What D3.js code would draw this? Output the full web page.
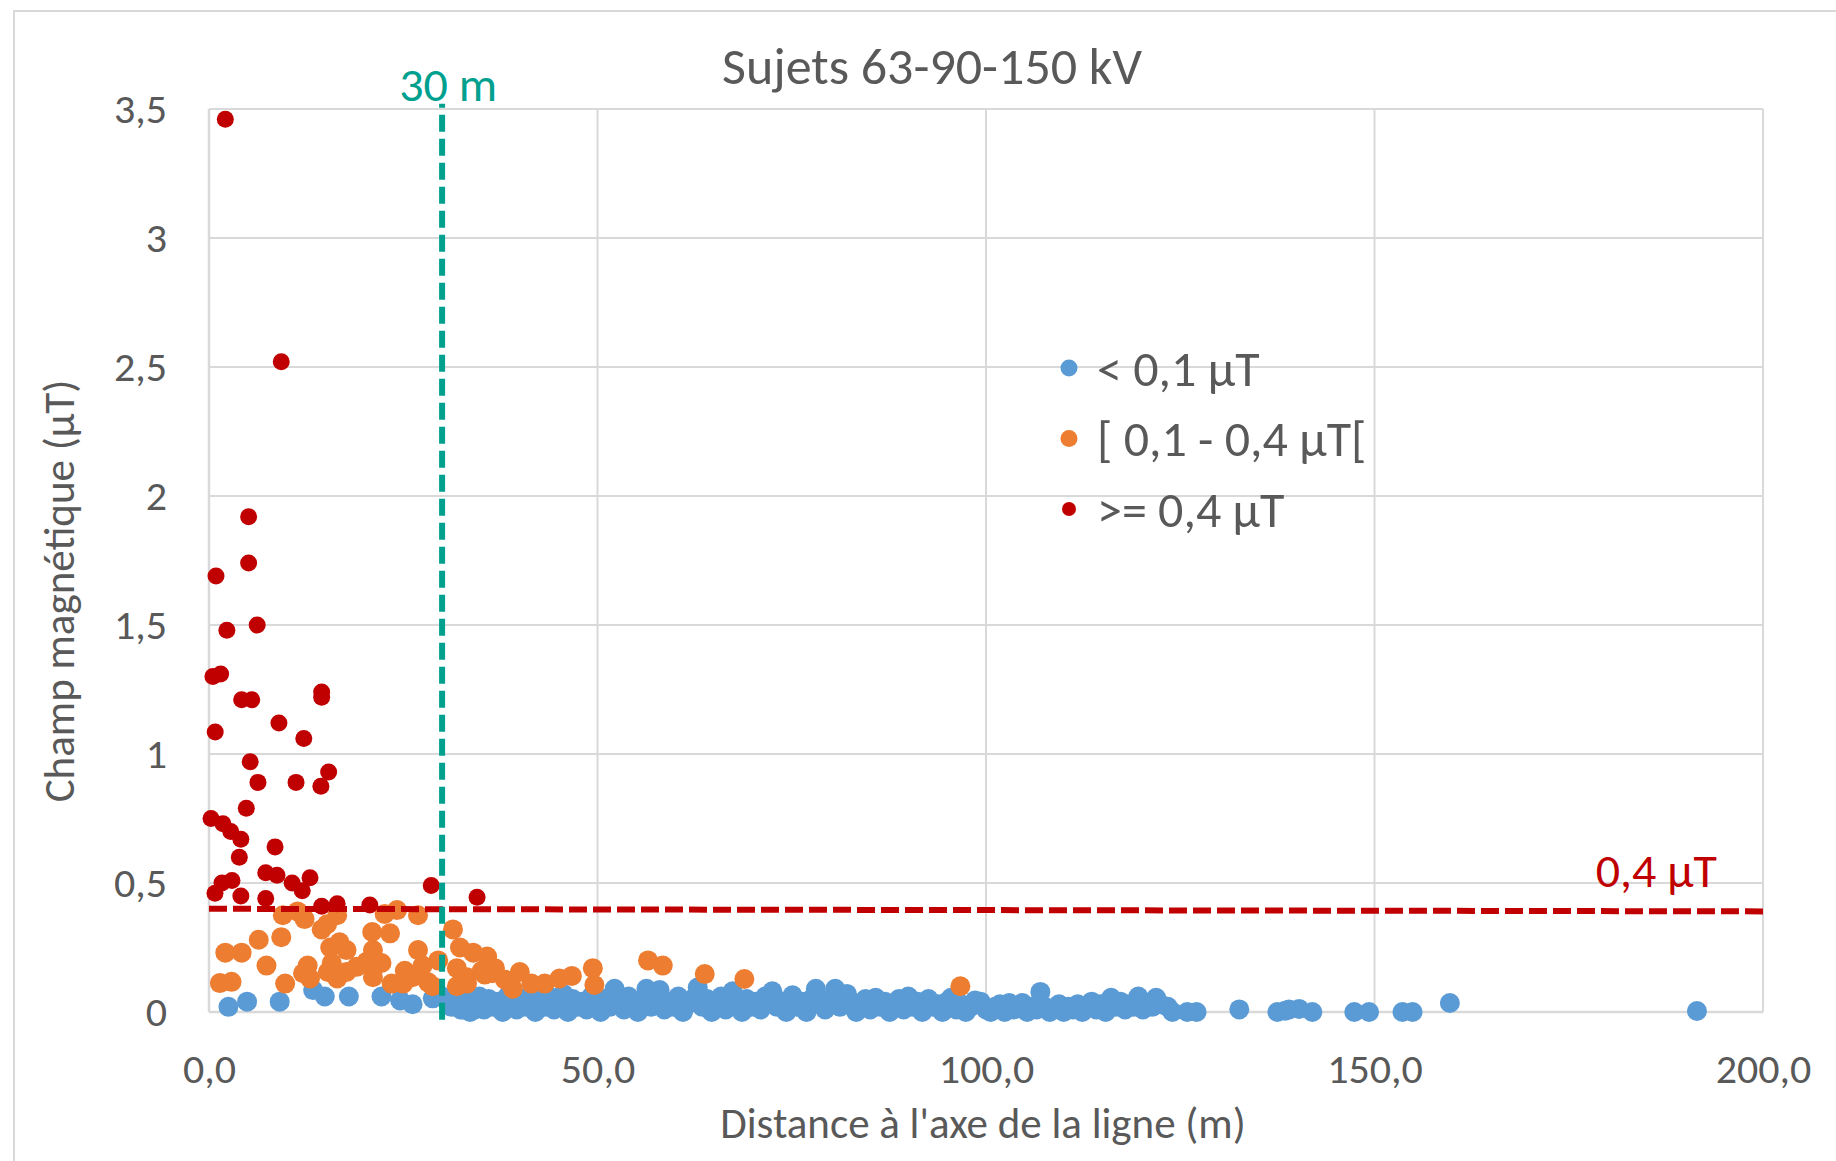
<!DOCTYPE html>
<html>
<head>
<meta charset="utf-8">
<script src="https://cdn.jsdelivr.net/npm/d3@7"></script>
<style>
    html, body { margin: 0; padding: 0; background: #fff; }
    svg { display: block; font-family: Carlito, Calibri, Lato, sans-serif; }
</style>
</head>
<body>
<div id="chartContainer"></div>
<script>
// axis ticks
const xTicks = [0, 50, 100, 150, 200];
const yTicks = [0, 0.5, 1, 1.5, 2, 2.5, 3, 3.5];

const seriesNames = ["< 0,1 µT", "[ 0,1 - 0,4 µT[", ">= 0,4 µT"];

// [distance (m), champ (µT)]
const bluePoints = [
    [2.5, 0.02], [4.9, 0.04], [9.1, 0.04], [13.4, 0.085], [14.9, 0.06], [18.0, 0.06], [22.2, 0.06],
    [24.6, 0.045], [26.2, 0.03], [28.8, 0.053], [30.0, 0.06], [32.7, 0.01], [34.2, 0.01],
    [30.5, 0.05], [31.2, 0.02], [31.8, 0.06], [32.4, 0.01], [33.0, 0.04], [33.6, 0.0], [34.8, 0.06],
    [35.4, 0.01], [36.0, 0.05], [36.6, 0.02], [37.2, 0.04], [37.8, 0.0], [38.4, 0.06], [39.0, 0.03],
    [39.6, 0.01], [40.2, 0.05], [40.8, 0.02], [41.4, 0.07], [42.0, 0.0], [42.6, 0.04], [43.2, 0.02],
    [43.8, 0.06], [44.4, 0.01], [45.0, 0.03], [45.6, 0.07], [46.2, 0.0], [46.8, 0.05], [47.4, 0.02],
    [48.0, 0.04], [48.6, 0.01], [49.2, 0.06], [49.8, 0.03], [50.4, 0.0], [51.0, 0.05], [51.6, 0.02],
    [52.2, 0.09], [52.8, 0.04], [53.4, 0.01], [54.0, 0.06], [54.6, 0.03], [55.2, 0.0], [55.8, 0.05],
    [56.3, 0.09], [56.9, 0.02], [57.5, 0.06], [58.0, 0.085], [58.6, 0.01], [59.2, 0.04], [59.8, 0.02],
    [60.4, 0.06], [61.0, 0.0], [61.6, 0.03], [62.2, 0.05], [62.9, 0.095], [63.5, 0.02], [64.1, 0.05],
    [64.7, 0.0], [65.3, 0.03], [65.9, 0.06], [66.5, 0.01], [67.4, 0.08], [68.0, 0.03], [68.6, 0.0],
    [69.2, 0.05], [69.8, 0.02], [70.4, 0.04], [71.0, 0.01], [71.6, 0.06], [72.5, 0.08], [73.1, 0.02],
    [73.7, 0.04], [74.3, 0.0], [75.1, 0.065], [75.7, 0.02], [76.3, 0.04], [76.9, 0.0], [77.5, 0.05],
    [78.1, 0.09], [78.7, 0.03], [79.3, 0.01], [80.0, 0.05], [80.6, 0.09], [81.2, 0.02], [82.1, 0.07],
    [82.7, 0.04], [83.3, 0.0], [83.9, 0.03], [84.5, 0.05], [85.1, 0.01], [85.8, 0.055], [86.4, 0.02],
    [87.0, 0.04], [87.6, 0.0], [88.2, 0.03], [88.8, 0.05], [89.4, 0.01], [90.0, 0.06], [90.6, 0.02],
    [91.2, 0.04], [91.8, 0.0], [92.6, 0.05], [93.2, 0.02], [93.8, 0.03], [94.4, 0.0], [95.0, 0.04],
    [95.5, 0.055], [96.2, 0.01], [96.8, 0.03], [97.4, 0.0], [98.0, 0.02], [98.6, 0.045], [99.3, 0.04],
    [100.0, 0.01], [100.6, 0.0], [101.2, 0.02], [101.8, 0.03], [102.4, 0.0], [103.0, 0.035], [103.6, 0.01],
    [104.2, 0.02], [104.7, 0.035], [105.3, 0.0], [105.9, 0.02], [106.5, 0.01], [107.0, 0.078], [107.6, 0.02],
    [108.2, 0.0], [108.8, 0.015], [109.4, 0.03], [110.0, 0.0], [110.6, 0.02], [111.2, 0.01], [111.8, 0.03],
    [112.4, 0.0], [113.0, 0.02], [113.6, 0.04], [114.2, 0.01], [114.8, 0.03], [115.4, 0.0], [116.1, 0.055],
    [116.7, 0.02], [117.3, 0.04], [117.9, 0.01], [118.5, 0.03], [119.0, 0.02], [119.6, 0.06], [120.2, 0.01],
    [120.8, 0.035], [121.4, 0.02], [121.9, 0.055], [122.5, 0.03], [123.4, 0.02], [124.0, 0.0],
    [125.9, 0.0], [127.1, 0.0], [132.6, 0.01], [137.5, 0.0], [138.5, 0.005], [139.0, 0.01], [140.3, 0.012],
    [142.0, 0.0], [147.4, 0.0], [149.3, 0.0], [153.6, 0.0], [154.9, 0.0], [159.7, 0.035], [191.5, 0.004]
];

const orangePoints = [
    [1.4, 0.112], [2.9, 0.117], [2.1, 0.23], [4.2, 0.23], [6.4, 0.28], [7.4, 0.18], [9.3, 0.29],
    [9.8, 0.11], [9.5, 0.375], [11.4, 0.39], [12.3, 0.36], [12.7, 0.18], [12.1, 0.15], [13.0, 0.13],
    [14.5, 0.32], [15.2, 0.34], [16.5, 0.375], [15.6, 0.25], [16.8, 0.27], [17.7, 0.24], [15.8, 0.19],
    [15.3, 0.155], [16.5, 0.13], [17.7, 0.155], [19.0, 0.175], [20.3, 0.195], [21.1, 0.24], [21.0, 0.31],
    [21.1, 0.135], [22.2, 0.19], [22.6, 0.38], [24.2, 0.395], [23.3, 0.305], [23.5, 0.11], [25.2, 0.16],
    [25.0, 0.11], [26.9, 0.375], [26.9, 0.24], [27.5, 0.18], [26.2, 0.135], [28.2, 0.115], [29.5, 0.2],
    [28.8, 0.1], [31.4, 0.32], [32.3, 0.25], [34.0, 0.23], [35.8, 0.215], [31.9, 0.17], [33.2, 0.135],
    [35.1, 0.16], [36.5, 0.15], [31.9, 0.1], [33.2, 0.11], [36.8, 0.17], [35.5, 0.145], [38.1, 0.125],
    [39.1, 0.09], [40.0, 0.155], [41.5, 0.11], [43.2, 0.11], [45.1, 0.13], [46.7, 0.14], [49.4, 0.17],
    [49.6, 0.105], [56.5, 0.2], [58.4, 0.18], [63.8, 0.147], [68.9, 0.128], [96.7, 0.1]
];

const redPoints = [
    [2.1, 3.46], [9.3, 2.52], [5.1, 1.92], [5.1, 1.74], [0.9, 1.69], [6.2, 1.5], [2.3, 1.48],
    [0.5, 1.3], [1.5, 1.31], [4.2, 1.21], [5.5, 1.21], [14.5, 1.24], [14.5, 1.22], [9.0, 1.12],
    [12.2, 1.06], [0.8, 1.085], [5.3, 0.97], [15.4, 0.93], [6.3, 0.89], [11.2, 0.89], [14.4, 0.875],
    [4.8, 0.79], [0.26, 0.75], [1.8, 0.73], [2.8, 0.7], [4.1, 0.67], [8.5, 0.64], [3.9, 0.6],
    [1.67, 0.5], [2.96, 0.51], [0.77, 0.46], [4.1, 0.45], [7.3, 0.54], [8.75, 0.53], [10.7, 0.5],
    [12.0, 0.47], [13.0, 0.52], [7.3, 0.44], [14.5, 0.41], [16.5, 0.42], [20.7, 0.415], [28.6, 0.49],
    [34.5, 0.445]
];

// seuil 0,4 µT et distance 30 m
const limitLine = [[0, 0.4], [200, 0.39]];
const distLine = [[30, -0.03], [30, 3.52]];
const limitLabel = "0,4 µT";
const distLabel = "30 m";

const width = 1836, height = 1161;
const plot = {left: 209, right: 1763, top: 109, bottom: 1012};
const grey = "#595959", gridColor = "#d9d9d9";
const colors = ["#5b9bd5", "#ed7d31", "#c00000"];
const teal = "#00a08f";

const locale = d3.formatLocale({decimal: ",", thousands: " ", grouping: [3], currency: ["", "€"]});

function init() {
    let svg = d3.select("#chartContainer").append("svg")
        .attr("width", width)
        .attr("height", height);

    svg.append("rect")
        .attr("x", 14).attr("y", 11)
        .attr("width", width).attr("height", height)
        .attr("fill", "none")
        .attr("stroke", gridColor)
        .attr("stroke-width", 2);

    let x = d3.scaleLinear().domain([0, 200]).range([plot.left, plot.right]);
    let y = d3.scaleLinear().domain([0, 3.5]).range([plot.bottom, plot.top]);

    // grid
    svg.append("g")
        .selectAll("line.h")
        .data(yTicks)
        .join("line")
        .attr("x1", plot.left).attr("x2", plot.right)
        .attr("y1", d => y(d)).attr("y2", d => y(d))
        .attr("stroke", gridColor)
        .attr("stroke-width", d => d === 0 ? 2.5 : 2);

    svg.append("g")
        .selectAll("line.v")
        .data(xTicks)
        .join("line")
        .attr("x1", d => x(d)).attr("x2", d => x(d))
        .attr("y1", plot.top).attr("y2", plot.bottom)
        .attr("stroke", gridColor)
        .attr("stroke-width", d => d === 0 ? 2.5 : 2);

    // axes
    let xAxis = svg.append("g")
        .attr("transform", `translate(0,${plot.bottom})`)
        .call(d3.axisBottom(x).tickValues(xTicks).tickSize(0).tickPadding(41)
            .tickFormat(locale.format(".1f")));

    let yAxis = svg.append("g")
        .attr("transform", `translate(${plot.left},0)`)
        .call(d3.axisLeft(y).tickValues(yTicks).tickSize(0).tickPadding(42)
            .tickFormat(locale.format("~g")));

    [xAxis, yAxis].forEach(a => {
        a.select(".domain").remove();
        a.selectAll("text")
            .attr("fill", grey)
            .style("font-size", "42px")
            .style("font-family", "Carlito, Calibri, Lato, sans-serif");
    });

    // points
    const series = [bluePoints, orangePoints, redPoints];
    const radius = [10, 10, 8.5];
    series.forEach((pts, i) => {
        svg.append("g")
            .selectAll("circle")
            .data(pts)
            .join("circle")
            .attr("cx", d => x(d[0]))
            .attr("cy", d => y(d[1]))
            .attr("r", radius[i])
            .attr("fill", colors[i]);
    });

    let line = d3.line().x(d => x(d[0])).y(d => y(d[1]));

    svg.append("path")
        .attr("d", line(limitLine))
        .attr("fill", "none")
        .attr("stroke", colors[2])
        .attr("stroke-width", 6)
        .attr("stroke-dasharray", "18,6");

    svg.append("path")
        .attr("d", line(distLine))
        .attr("fill", "none")
        .attr("stroke", teal)
        .attr("stroke-width", 6)
        .attr("stroke-dasharray", "17,7");

    svg.append("text")
        .attr("x", x(distLine[0][0]) + 6)
        .attr("y", 101)
        .attr("text-anchor", "middle")
        .attr("fill", teal)
        .style("font-size", "48px")
        .text(distLabel);

    svg.append("text")
        .attr("x", 1717)
        .attr("y", 887)
        .attr("text-anchor", "end")
        .attr("fill", colors[2])
        .style("font-size", "48px")
        .text(limitLabel);

    // titles
    svg.append("text")
        .attr("x", 932).attr("y", 84)
        .attr("text-anchor", "middle")
        .attr("fill", grey)
        .style("font-size", "52px")
        .text("Sujets 63-90-150 kV");

    svg.append("text")
        .attr("x", 983).attr("y", 1138)
        .attr("text-anchor", "middle")
        .attr("fill", grey)
        .style("font-size", "43px")
        .text("Distance à l'axe de la ligne (m)");

    svg.append("text")
        .attr("transform", "translate(74,591) rotate(-90)")
        .attr("text-anchor", "middle")
        .attr("fill", grey)
        .style("font-size", "43px")
        .text("Champ magnétique (µT)");

    // legend
    let legend = svg.append("g").attr("transform", "translate(1069,368)");
    let rows = legend.selectAll("g")
        .data(seriesNames)
        .join("g")
        .attr("transform", (d, i) => `translate(0,${i * 70.5})`);

    rows.append("circle")
        .attr("r", (d, i) => i === 2 ? 7 : 8.5)
        .attr("fill", (d, i) => colors[i]);

    rows.append("text")
        .attr("x", 28)
        .attr("dy", "0.35em")
        .attr("fill", grey)
        .style("font-size", "50px")
        .text(d => d);
}

init();
</script>
</body>
</html>
